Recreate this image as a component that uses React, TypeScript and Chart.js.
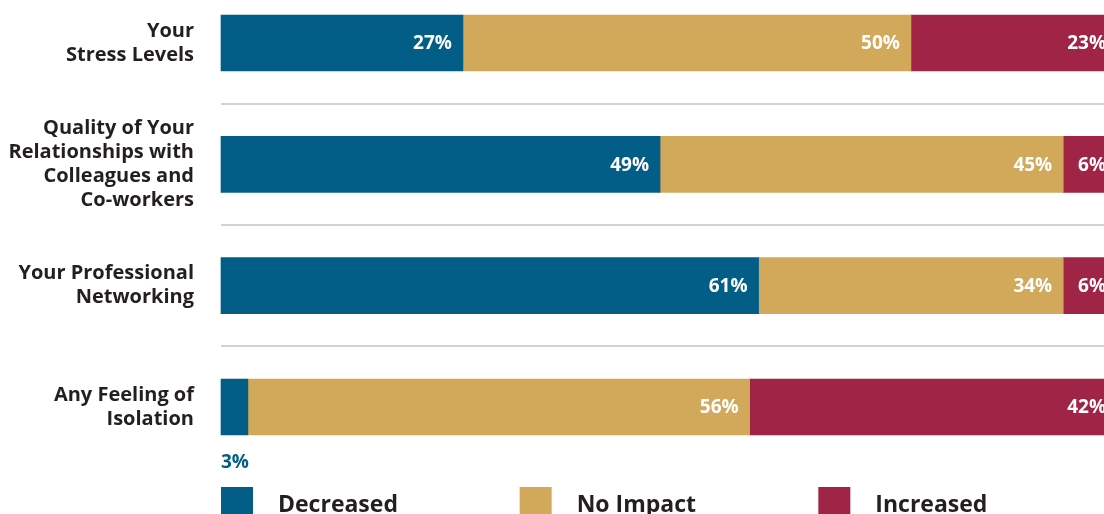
import React, { useEffect, useRef } from "react";
import { Chart, registerables } from "chart.js";

Chart.register(...registerables);

const categories: string[][] = [
  ["Your", "Stress Levels"],
  ["Quality of Your", "Relationships with", "Colleagues and", "Co-workers"],
  ["Your Professional", "Networking"],
  ["Any Feeling of", "Isolation"],
];
const seriesNames = ["Decreased", "No Impact", "Increased"];
const decreased = [27, 49, 60, 3];
const noImpact = [50, 45, 34, 56];
const increased = [23, 6, 6, 41];
const decreasedLabels = ["27%", "49%", "61%", "3%"];
const noImpactLabels = ["50%", "45%", "34%", "56%"];
const increasedLabels = ["23%", "6%", "6%", "42%"];
const seriesColors = ["#025E86", "#D2A85A", "#A02445"];

const FONT = "'Open Sans', 'DejaVu Sans', sans-serif";

export default function App() {
  const ref = useRef<HTMLCanvasElement | null>(null);

  useEffect(() => {
    const canvas = ref.current;
    if (!canvas) return;
    const valueLabels = [decreasedLabels, noImpactLabels, increasedLabels];

    const decorPlugin = {
      id: "decor",
      beforeDatasetsDraw(chart: any) {
        const ctx = chart.ctx;
        const ys = chart.scales.y;
        const area = chart.chartArea;
        ctx.save();
        ctx.strokeStyle = "#d2d2d2";
        ctx.lineWidth = 2;
        for (let i = 0; i < categories.length - 1; i++) {
          const y = Math.round((ys.getPixelForValue(i) + ys.getPixelForValue(i + 1)) / 2);
          ctx.beginPath();
          ctx.moveTo(area.left, y);
          ctx.lineTo(chart.width, y);
          ctx.stroke();
        }
        ctx.restore();
      },
      afterDatasetsDraw(chart: any) {
        const ctx = chart.ctx;
        ctx.save();
        ctx.font = `bold 19px ${FONT}`;
        ctx.textBaseline = "middle";
        chart.data.datasets.forEach((_ds: any, di: number) => {
          const meta = chart.getDatasetMeta(di);
          meta.data.forEach((bar: any, i: number) => {
            const p = bar.getProps(["x", "y", "base", "height"], true);
            const text = valueLabels[di][i];
            const w = Math.abs(p.x - p.base);
            const tw = ctx.measureText(text).width;
            if (tw + 16 < w) {
              ctx.fillStyle = "#ffffff";
              ctx.textAlign = "right";
              ctx.fillText(text, p.x - 11, p.y + 1);
            } else {
              ctx.fillStyle = seriesColors[di];
              ctx.textAlign = "left";
              ctx.fillText(text, Math.min(p.base, p.x), p.y + p.height / 2 + 28);
            }
          });
        });
        ctx.restore();
      },
      afterDraw(chart: any) {
        const ctx = chart.ctx;
        const area = chart.chartArea;
        const step = area.width / seriesNames.length;
        ctx.save();
        ctx.font = `bold 23px ${FONT}`;
        ctx.textBaseline = "alphabetic";
        ctx.textAlign = "left";
        seriesNames.forEach((name, i) => {
          const x0 = area.left + i * step;
          const top = area.bottom + 80;
          ctx.fillStyle = seriesColors[i];
          ctx.fillRect(x0, top, 32, 32);
          ctx.fillStyle = "#231f20";
          ctx.fillText(name, x0 + 57, top + 25);
        });
        ctx.restore();
      },
    };

    const chart = new Chart(canvas, {
      type: "bar",
      data: {
        labels: categories as any,
        datasets: [decreased, noImpact, increased].map((d, i) => ({
          label: seriesNames[i],
          data: d,
          backgroundColor: seriesColors[i],
          borderWidth: 0,
          barThickness: 56,
          clip: false as any,
        })),
      },
      options: {
        indexAxis: "y",
        animation: false,
        responsive: false,
        maintainAspectRatio: false,
        layout: { padding: { top: 43, bottom: 153, left: 0, right: 23 } },
        plugins: {
          legend: { display: false },
          tooltip: { enabled: false },
        },
        scales: {
          x: { stacked: true, min: 0, max: 100, display: false },
          y: {
            stacked: true,
            offset: false,
            grid: { display: false, drawTicks: false },
            border: { display: false },
            afterFit: (scale: any) => {
              scale.width = 221;
              scale.paddingTop = 0;
              scale.paddingBottom = 0;
            },
            ticks: {
              padding: 27,
              crossAlign: "near",
              color: "#231f20",
              font: { family: FONT, size: 20, weight: "bold", lineHeight: 1.2 },
            },
          },
        },
      } as any,
      plugins: [decorPlugin],
    });
    return () => chart.destroy();
  }, []);

  return (
    <div style={{ position: "fixed", left: 0, top: 0, width: 1104, height: 514, overflow: "hidden", background: "#fff" }}>
      <canvas ref={ref} width={1140} height={560} style={{ display: "block", width: 1140, height: 560 }} />
    </div>
  );
}
